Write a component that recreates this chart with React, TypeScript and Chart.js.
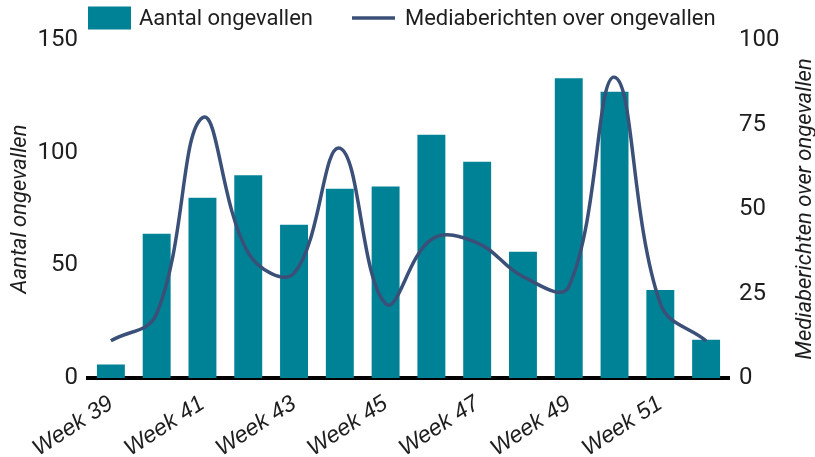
import React, { useEffect, useRef } from "react";
import { Chart, registerables } from "chart.js";

Chart.register(...registerables);

const weeks = [
  "Week 39", "Week 40", "Week 41", "Week 42", "Week 43", "Week 44", "Week 45",
  "Week 46", "Week 47", "Week 48", "Week 49", "Week 50", "Week 51", "Week 52",
];
const accidents = [6, 64, 80, 90, 68, 84, 85, 108, 96, 56, 133, 127, 39, 17];
const mediaReports = [11, 19, 77, 37, 31, 68, 22, 41, 40, 30, 27, 89, 22, 11];
const leftTicks = [0, 50, 100, 150];
const rightTicks = [0, 25, 50, 75, 100];

const BAR_LABEL = "Aantal ongevallen";
const LINE_LABEL = "Mediaberichten over ongevallen";
const BAR_COLOR = "#008296";
const LINE_COLOR = "#3b5078";
const TEXT_COLOR = "#1e1e1e";

const customPlugin = {
  id: "customDecor",
  afterDraw(chart: any) {
    const { ctx, chartArea } = chart;
    const scale = chart.scales.y1;
    // right axis title, reading bottom to top
    ctx.save();
    ctx.font = "italic 22px Roboto";
    ctx.fillStyle = TEXT_COLOR;
    ctx.textAlign = "center";
    ctx.textBaseline = "middle";
    ctx.translate(scale.right - 10, (chartArea.top + chartArea.bottom) / 2);
    ctx.rotate(-Math.PI / 2);
    ctx.fillText(LINE_LABEL, 0, 0);
    ctx.restore();

    // legend
    ctx.save();
    ctx.font = "22px Roboto";
    ctx.textAlign = "left";
    ctx.textBaseline = "middle";
    const cy = chartArea.top - 22;
    let x = chartArea.left;
    const boxW = 43;
    const boxH = 23;
    ctx.fillStyle = BAR_COLOR;
    ctx.fillRect(x, cy - boxH / 2, boxW, boxH);
    x += boxW + 8;
    ctx.fillStyle = TEXT_COLOR;
    ctx.fillText(BAR_LABEL, x, cy + 1);
    x += ctx.measureText(BAR_LABEL).width + 39;
    ctx.strokeStyle = LINE_COLOR;
    ctx.lineWidth = 3.5;
    ctx.beginPath();
    ctx.moveTo(x, cy);
    ctx.lineTo(x + boxW, cy);
    ctx.stroke();
    x += boxW + 10;
    ctx.fillText(LINE_LABEL, x, cy + 1);
    ctx.restore();
  },
};

export default function App() {
  const ref = useRef<HTMLCanvasElement | null>(null);
  useEffect(() => {
    document.body.style.margin = "0";
    if (!ref.current) return;
    const chart = new Chart(ref.current, {
      type: "bar",
      data: {
        labels: weeks,
        datasets: [
          {
            type: "bar",
            label: BAR_LABEL,
            data: accidents,
            backgroundColor: BAR_COLOR,
            borderWidth: 0,
            yAxisID: "y",
            order: 1,
            barPercentage: 0.61,
            categoryPercentage: 1,
          } as any,
          {
            type: "line",
            label: LINE_LABEL,
            data: mediaReports,
            borderColor: LINE_COLOR,
            backgroundColor: LINE_COLOR,
            borderWidth: 3.5,
            pointRadius: 0,
            tension: 0.4,
            yAxisID: "y1",
            order: 0,
          } as any,
        ],
      },
      options: {
        responsive: false,
        animation: false,
        layout: { padding: { left: 0, right: 0, top: 40, bottom: 0 } },
        plugins: {
          tooltip: { enabled: false },
          legend: { display: false },
        },
        scales: {
          x: {
            offset: true,
            grid: { display: false },
            border: { display: true, color: "#000", width: 4 },
            afterFit: (s: any) => {
              s.height = 79;
            },
            ticks: {
              autoSkip: false,
              minRotation: 33,
              maxRotation: 33,
              padding: 4,
              color: TEXT_COLOR,
              font: { family: "Liberation Sans", size: 23, style: "italic" },
              callback: (_v: any, i: number) => (i % 2 === 0 ? weeks[i] : null),
            },
          },
          y: {
            position: "left",
            min: 0,
            max: 150,
            grid: { display: false, drawTicks: false },
            border: { display: false },
            afterBuildTicks: (s: any) => {
              s.ticks = leftTicks.map((v) => ({ value: v }));
            },
            afterFit: (s: any) => {
              s.width = 88;
            },
            ticks: {
              color: TEXT_COLOR,
              padding: 10,
              font: { family: "Roboto", size: 24 },
            },
            title: {
              display: true,
              text: BAR_LABEL,
              color: TEXT_COLOR,
              font: { family: "Roboto", size: 22, style: "italic" },
              padding: { top: 7, bottom: 4 },
            },
          },
          y1: {
            position: "right",
            min: 0,
            max: 100,
            grid: { display: false, drawTicks: false },
            border: { display: false },
            afterBuildTicks: (s: any) => {
              s.ticks = rightTicks.map((v) => ({ value: v }));
            },
            afterFit: (s: any) => {
              s.width = 86;
            },
            ticks: {
              color: TEXT_COLOR,
              padding: 10,
              font: { family: "Roboto", size: 24 },
            },
          },
        },
      },
      plugins: [customPlugin],
    });
    return () => chart.destroy();
  }, []);
  return (
    <div style={{ width: 815, height: 457 }}>
      <canvas ref={ref} width={815} height={457} style={{ display: "block" }} />
    </div>
  );
}
